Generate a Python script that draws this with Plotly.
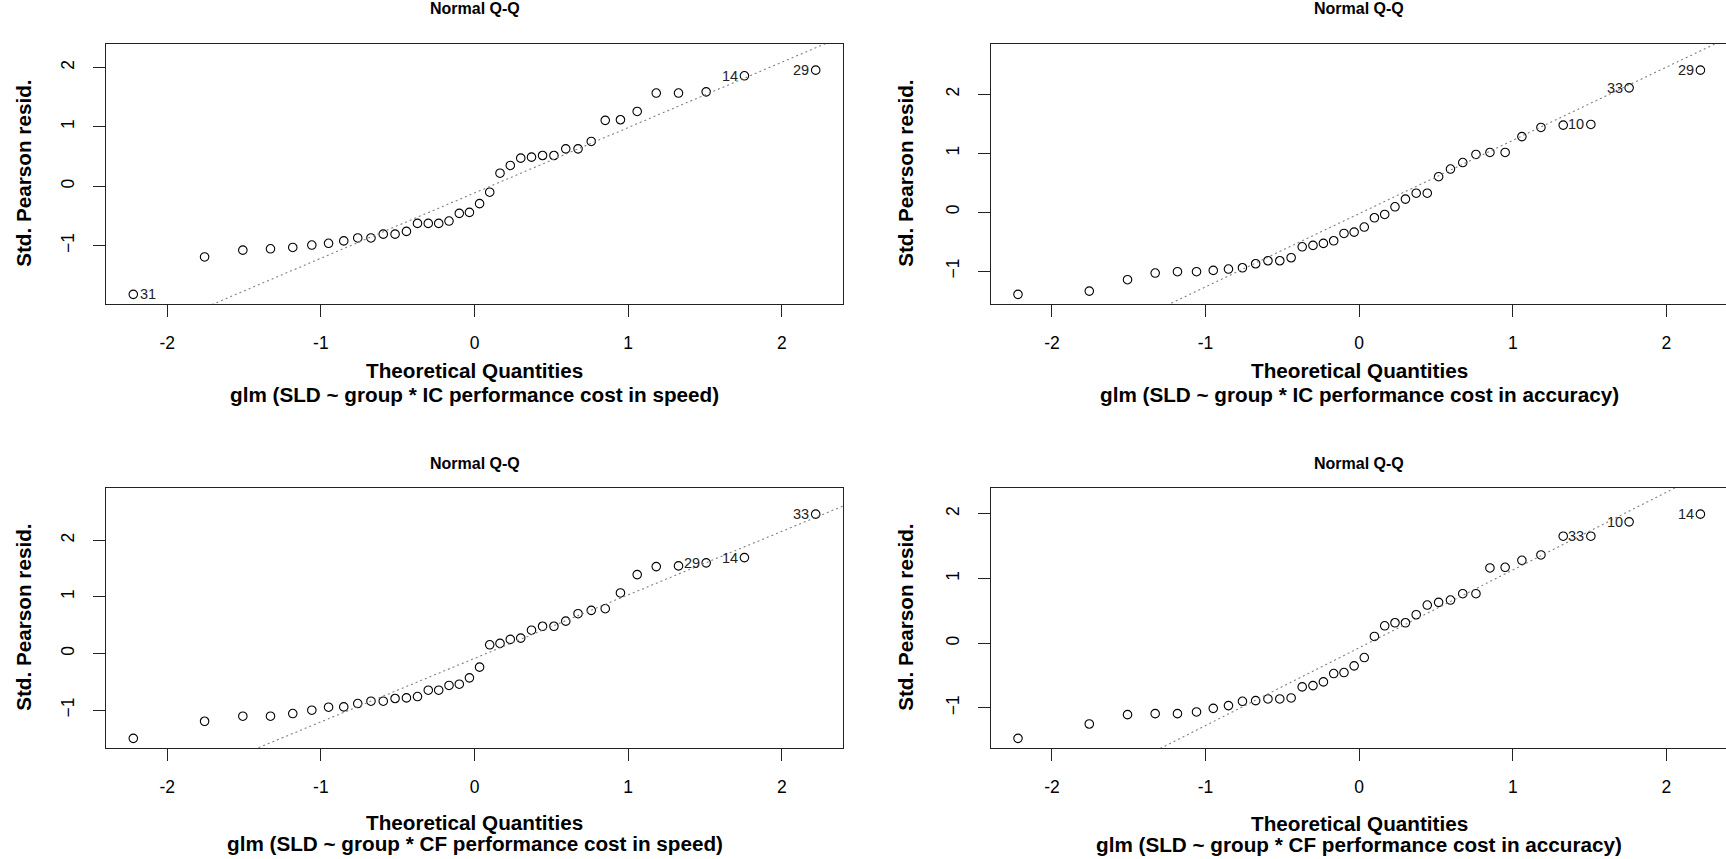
import numpy as np
import plotly.graph_objects as go

# ---------------- data ----------------
theoretical_q = [-2.221, -1.757, -1.508, -1.328, -1.183, -1.059, -0.950, -0.851, -0.760, -0.674,
                 -0.594, -0.517, -0.443, -0.371, -0.301, -0.233, -0.166, -0.099, -0.033,
                 0.033, 0.099, 0.166, 0.233, 0.301, 0.371, 0.443, 0.517, 0.594, 0.674,
                 0.760, 0.851, 0.950, 1.059, 1.183, 1.328, 1.508, 1.757, 2.221]

resid_ic_speed = [-1.82, -1.19, -1.076, -1.053, -1.03, -0.99, -0.96, -0.92, -0.87, -0.87,
                  -0.806, -0.806, -0.76, -0.625, -0.625, -0.625, -0.586, -0.456, -0.44,
                  -0.293, -0.10, 0.22, 0.35, 0.473, 0.49, 0.518, 0.518, 0.63, 0.63,
                  0.755, 1.11, 1.12, 1.26, 1.57, 1.57, 1.59, 1.86, 1.955]
resid_ic_accuracy = [-1.395, -1.34, -1.147, -1.034, -1.011, -1.011, -0.989, -0.966, -0.944, -0.876,
                     -0.825, -0.825, -0.774, -0.588, -0.565, -0.531, -0.486, -0.362, -0.339,
                     -0.254, -0.096, -0.04, 0.09, 0.22, 0.32, 0.32, 0.6, 0.73, 0.84,
                     0.977, 1.011, 1.011, 1.28, 1.435, 1.475, 1.486, 2.107, 2.407]
resid_cf_speed = [-1.50, -1.198, -1.109, -1.109, -1.062, -1.003, -0.95, -0.944, -0.885, -0.844,
                  -0.844, -0.796, -0.785, -0.761, -0.649, -0.649, -0.566, -0.543, -0.431,
                  -0.242, 0.153, 0.177, 0.248, 0.271, 0.41, 0.48, 0.48, 0.57, 0.702,
                  0.761, 0.79, 1.068, 1.392, 1.534, 1.546, 1.6, 1.693, 2.46]
resid_cf_accuracy = [-1.471, -1.249, -1.105, -1.089, -1.089, -1.063, -1.007, -0.965, -0.898, -0.888,
                     -0.862, -0.862, -0.847, -0.676, -0.656, -0.599, -0.47, -0.454, -0.351,
                     -0.222, 0.103, 0.268, 0.315, 0.315, 0.439, 0.589, 0.63, 0.666, 0.764,
                     0.764, 1.162, 1.172, 1.28, 1.363, 1.652, 1.652, 1.874, 1.993]

# labelled points: (index, label, side)
labels_ic_speed = [(0, "31", "right"), (36, "14", "left"), (37, "29", "left")]
labels_ic_accuracy = [(35, "10", "left"), (36, "33", "left"), (37, "29", "left")]
labels_cf_speed = [(35, "29", "left"), (36, "14", "left"), (37, "33", "left")]
labels_cf_accuracy = [(35, "33", "left"), (36, "10", "left"), (37, "14", "left")]

subtitles = ["glm (SLD ~ group * IC performance cost in speed)",
             "glm (SLD ~ group * IC performance cost in accuracy)",
             "glm (SLD ~ group * CF performance cost in speed)",
             "glm (SLD ~ group * CF performance cost in accuracy)"]
panel_title = "Normal Q-Q"
x_title = "Theoretical Quantities"
y_title = "Std. Pearson resid."
x_ticks = [-2, -1, 0, 1, 2]

# ---------------- layout geometry (pixels) ----------------
W, H = 1726, 859
FONT = "Liberation Sans, Arial, sans-serif"
box_w = 737.0
lefts = [106.0, 990.7, 106.0, 990.7]
tops = [43.7, 43.7, 487.7, 487.7]
box_h = 260.3
title_y = [8, 8, 463, 463]
xt_y = [370, 370, 822, 823]
sub_y = [394, 394, 843, 844]
ytitle_x = [24, 906, 24, 906]
TITLE_SIZE = 20.7

panels = [
    (resid_ic_speed, labels_ic_speed),
    (resid_ic_accuracy, labels_ic_accuracy),
    (resid_cf_speed, labels_cf_speed),
    (resid_cf_accuracy, labels_cf_accuracy),
]

fig = go.Figure()
layout = dict(width=W, height=H, margin=dict(l=0, r=0, t=0, b=0),
              paper_bgcolor="white", plot_bgcolor="white", showlegend=False,
              font=dict(family=FONT, color="black"))
annotations = []

xq = np.array(theoretical_q)
xlo0, xhi0 = xq.min(), xq.max()
xpad = 0.04 * (xhi0 - xlo0)
xr = [xlo0 - xpad, xhi0 + xpad]

for i, (res, labs) in enumerate(panels):
    k = "" if i == 0 else str(i + 1)
    xa, ya = "x" + k, "y" + k
    y = np.array(res)
    lo, hi = y.min(), y.max()
    hi2 = hi + 0.075 * (hi - lo)
    ypad = 0.04 * (hi2 - lo)
    yr = [lo - ypad, hi2 + ypad]

    left = lefts[i]
    right = min(left + box_w, W)
    frac = (right - left) / box_w
    xrange_i = [xr[0], xr[0] + (xr[1] - xr[0]) * frac]
    is_right_edge = right >= W

    # points
    fig.add_trace(go.Scatter(x=theoretical_q, y=res, mode="markers", xaxis=xa, yaxis=ya,
                             marker=dict(symbol="circle-open", size=8.5, color="black",
                                         line=dict(width=1.1, color="black")),
                             hoverinfo="skip"))
    # qq line through quartiles
    q1, q3 = np.percentile(y, [25, 75])
    z1, z3 = -0.6744897501960817, 0.6744897501960817
    slope = (q3 - q1) / (z3 - z1)
    inter = q1 - slope * z1
    lx = np.array(xrange_i)
    fig.add_trace(go.Scatter(x=lx, y=inter + slope * lx, mode="lines", xaxis=xa, yaxis=ya,
                             line=dict(color="#808080", width=1.1, dash="2px,3px"),
                             hoverinfo="skip"))
    # point id labels
    for j, t, side in labs:
        annotations.append(dict(text=t, x=theoretical_q[j], y=res[j], xref=xa, yref=ya,
                                showarrow=False,
                                xanchor="right" if side == "left" else "left",
                                yanchor="middle",
                                xshift=-4.5 if side == "left" else 4.5,
                                font=dict(size=14.5, color="#222", family=FONT)))

    x0 = left / W
    x1 = right / W
    y1 = 1 - tops[i] / H
    y0 = 1 - (tops[i] + box_h) / H
    axkey = "xaxis" + k
    aykey = "yaxis" + k
    layout[axkey] = dict(domain=[x0, x1], range=xrange_i, anchor=ya,
                         tickmode="array", tickvals=x_ticks, ticktext=[str(t) for t in x_ticks],
                         ticks="outside", ticklen=12, tickwidth=1, tickcolor="#222",
                         showline=True, linecolor="#222", linewidth=1, mirror=True,
                         showgrid=False, zeroline=False,
                         tickfont=dict(size=17.5, family=FONT, color="black"),
                         ticklabelstandoff=11)
    layout[aykey] = dict(domain=[y0, y1], range=yr, anchor=xa,
                         dtick=1, tick0=0, tickangle=-90,
                         ticks="outside", ticklen=12, tickwidth=1, tickcolor="#222",
                         showline=True, linecolor="#222", linewidth=1,
                         mirror=(not is_right_edge),
                         showgrid=False, zeroline=False,
                         tickfont=dict(size=17.5, family=FONT, color="black"),
                         ticklabelstandoff=12)

    cx = (left + left + box_w) / 2 / W
    annotations.append(dict(text="<b>%s</b>" % panel_title, x=cx, y=1 - title_y[i] / H,
                            xref="paper", yref="paper", showarrow=False,
                            xanchor="center", yanchor="middle",
                            font=dict(size=16, family=FONT, color="black")))
    annotations.append(dict(text="<b>%s</b>" % x_title, x=cx, y=1 - xt_y[i] / H,
                            xref="paper", yref="paper", showarrow=False,
                            xanchor="center", yanchor="middle",
                            font=dict(size=TITLE_SIZE, family=FONT, color="black")))
    annotations.append(dict(text="<b>%s</b>" % subtitles[i], x=cx, y=1 - sub_y[i] / H,
                            xref="paper", yref="paper", showarrow=False,
                            xanchor="center", yanchor="middle",
                            font=dict(size=TITLE_SIZE, family=FONT, color="black")))
    annotations.append(dict(text="<b>%s</b>" % y_title, x=ytitle_x[i] / W,
                            y=1 - (tops[i] + box_h / 2) / H,
                            xref="paper", yref="paper", showarrow=False, textangle=-90,
                            xanchor="center", yanchor="middle",
                            font=dict(size=TITLE_SIZE, family=FONT, color="black")))

layout["annotations"] = annotations
fig.update_layout(**layout)
fig.write_html("out.html",
               config={"displayModeBar": False},
               post_script="document.body.style.margin='0';document.body.style.padding='0';"
                           "document.body.style.overflow='hidden';")
